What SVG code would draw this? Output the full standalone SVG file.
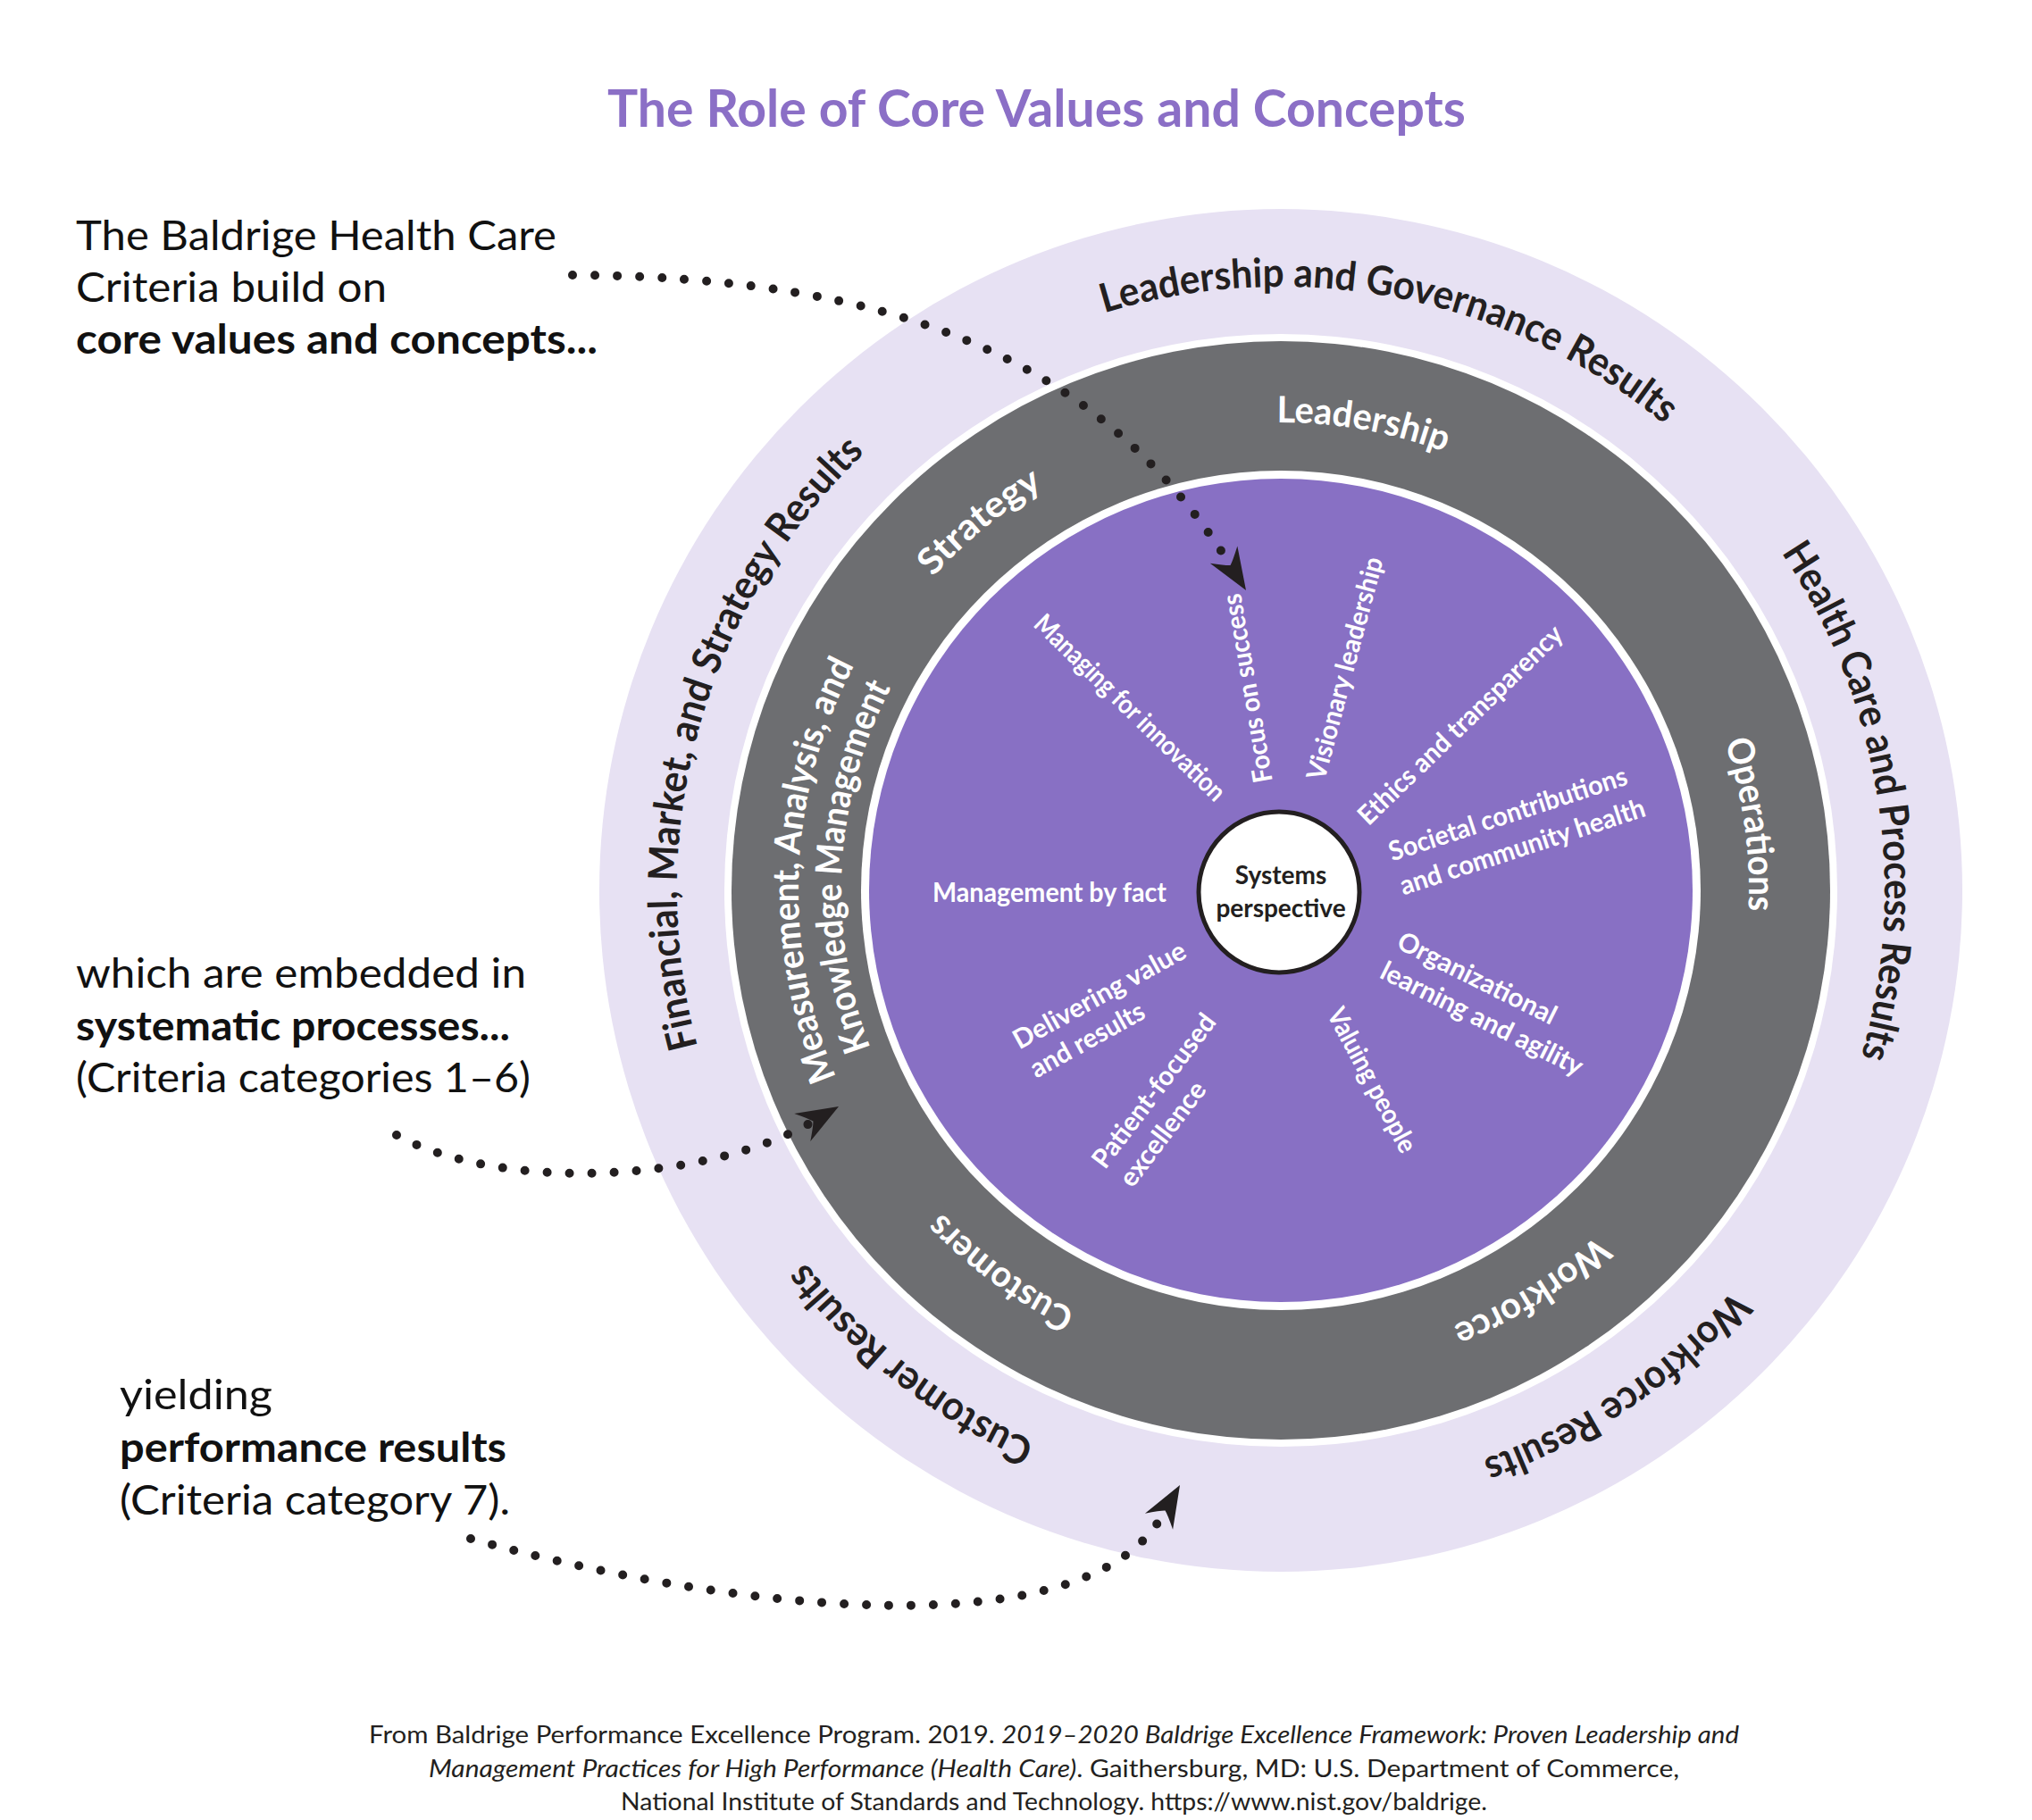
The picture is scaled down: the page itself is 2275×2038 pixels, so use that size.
<svg xmlns="http://www.w3.org/2000/svg" xmlns:xlink="http://www.w3.org/1999/xlink" width="2275" height="2038" viewBox="0 0 2275 2038">
<style>
  text{font-family:Lato,"Liberation Sans","DejaVu Sans",sans-serif}
  .title{font-weight:700;font-size:58px;fill:#8B6FC6}
  .note{font-size:46px;fill:#111111}
  .b{font-weight:700}
  .outer{font-weight:700;font-size:45px;fill:#231F20}
  .ring{font-weight:700;font-size:41px;fill:#FFFFFF}
  .val{font-weight:700;font-size:30px;fill:#FFFFFF}
  .sys{font-weight:700;font-size:28px;fill:#231F20}
  .foot{font-size:27px;fill:#231F20}
  .i{font-style:italic}
  .dots{fill:none;stroke:#231F20;stroke-width:10;stroke-linecap:round;stroke-dasharray:0 25}
  .head{fill:#231F20}
</style>
<defs>
  <path id="ah" d="M0,0 L-47,-18 Q-35,-4 -33,0 Q-35,4 -47,18 Z"/>
  <path id="pLG" d="M1236.3,350.5 A676,676 0 0 1 1864.0,475.4"/>
  <path id="pHC" d="M1994.4,619.0 A676,676 0 0 1 2083.8,1183.3"/>
  <path id="pFM" d="M781.0,1172.0 A676,676 0 0 1 968.6,506.6"/>
  <path id="pCR" d="M1159.1,1614.5 A676,676 0 0 1 901.3,1413.2"/>
  <path id="pWR" d="M1940.3,1444.9 A676,676 0 0 1 1659.6,1634.2"/>
  <path id="pL" d="M1429.4,473.0 A524,524 0 0 1 1617.5,506.2"/>
  <path id="pS" d="M1044.6,646.4 A524,524 0 0 1 1168.1,545.5"/>
  <path id="pM1" d="M936.2,1206.3 A540,540 0 0 1 956.3,745.1"/>
  <path id="pM2" d="M974.7,1173.3 A492,492 0 0 1 997.6,769.8"/>
  <path id="pO" d="M1930.9,830.7 A524,524 0 0 1 1957.5,1019.9"/>
  <path id="pC" d="M1204.3,1468.0 A524,524 0 0 1 1053.9,1357.7"/>
  <path id="pW" d="M1788.0,1383.3 A524,524 0 0 1 1626.0,1484.5"/>
</defs>

<rect width="2275" height="2038" fill="#FFFFFF"/>

<g id="title">
  <text class="title" x="680" y="142" textLength="961" lengthAdjust="spacingAndGlyphs">The Role of Core Values and Concepts</text>
</g>

<g id="rings">
  <circle cx="1434" cy="997" r="763" fill="#E7E1F3"/>
  <circle cx="1434" cy="997" r="623" fill="#FFFFFF"/>
  <circle cx="1434" cy="997" r="615" fill="#6D6E71"/>
  <circle cx="1434" cy="997" r="470" fill="#FFFFFF"/>
  <circle cx="1434" cy="997" r="461" fill="#8870C4"/>
</g>

<g id="results-ring">
  <text class="outer"><textPath href="#pLG" textLength="666" lengthAdjust="spacingAndGlyphs">Leadership and Governance Results</textPath></text>
  <text class="outer"><textPath href="#pHC" textLength="590" lengthAdjust="spacingAndGlyphs">Health Care and Process Results</textPath></text>
  <text class="outer"><textPath href="#pFM" textLength="725" lengthAdjust="spacingAndGlyphs">Financial, Market, and Strategy Results</textPath></text>
  <text class="outer"><textPath href="#pCR" textLength="330" lengthAdjust="spacingAndGlyphs">Customer Results</textPath></text>
  <text class="outer"><textPath href="#pWR" textLength="342" lengthAdjust="spacingAndGlyphs">Workforce Results</textPath></text>
</g>

<g id="process-ring">
  <text class="ring"><textPath href="#pL" textLength="192" lengthAdjust="spacingAndGlyphs">Leadership</textPath></text>
  <text class="ring"><textPath href="#pS" textLength="160" lengthAdjust="spacingAndGlyphs">Strategy</textPath></text>
  <text class="ring"><textPath href="#pM1" textLength="477" lengthAdjust="spacingAndGlyphs">Measurement, Analysis, and</textPath></text>
  <text class="ring"><textPath href="#pM2" textLength="416" lengthAdjust="spacingAndGlyphs">Knowledge Management</textPath></text>
  <text class="ring"><textPath href="#pO" textLength="192" lengthAdjust="spacingAndGlyphs">Operations</textPath></text>
  <text class="ring"><textPath href="#pC" textLength="187" lengthAdjust="spacingAndGlyphs">Customers</textPath></text>
  <text class="ring"><textPath href="#pW" textLength="192" lengthAdjust="spacingAndGlyphs">Workforce</textPath></text>
</g>

<g id="core-values">
  <text class="val" transform="translate(1162,694) rotate(44.2)" x="0" y="9" textLength="285" lengthAdjust="spacingAndGlyphs">Managing for innovation</text>
  <text class="val" transform="translate(1416,876) rotate(-99.7)" x="0" y="9" textLength="214" lengthAdjust="spacingAndGlyphs">Focus on success</text>
  <text class="val" transform="translate(1474,873) rotate(-75.1)" x="0" y="9" textLength="257" lengthAdjust="spacingAndGlyphs">Visionary leadership</text>
  <text class="val" transform="translate(1526,919) rotate(-44.1)" x="0" y="9" textLength="306" lengthAdjust="spacingAndGlyphs">Ethics and transparency</text>
  <g transform="translate(1556,956) rotate(-18.1)">
    <text class="val" x="0" y="9" textLength="279" lengthAdjust="spacingAndGlyphs">Societal contributions</text>
    <text class="val" x="0" y="49" textLength="287" lengthAdjust="spacingAndGlyphs">and community health</text>
  </g>
  <text class="val" x="1044" y="1010" textLength="262" lengthAdjust="spacingAndGlyphs">Management by fact</text>
  <g transform="translate(1566,1053) rotate(26.5)">
    <text class="val" x="0" y="9" textLength="195" lengthAdjust="spacingAndGlyphs">Organizational</text>
    <text class="val" x="-2" y="47" textLength="249" lengthAdjust="spacingAndGlyphs">learning and agility</text>
  </g>
  <text class="val" transform="translate(1493,1131) rotate(62)" x="0" y="9" textLength="179" lengthAdjust="spacingAndGlyphs">Valuing people</text>
  <g transform="translate(1137,1168) rotate(-29)">
    <text class="val" x="0" y="9" textLength="216" lengthAdjust="spacingAndGlyphs">Delivering value</text>
    <text class="val" x="1" y="46" textLength="142" lengthAdjust="spacingAndGlyphs">and results</text>
  </g>
  <g transform="translate(1230,1305) rotate(-52.8)">
    <text class="val" x="0" y="9" textLength="208" lengthAdjust="spacingAndGlyphs">Patient-focused</text>
    <text class="val" x="2" y="46" textLength="139" lengthAdjust="spacingAndGlyphs">excellence</text>
  </g>
</g>

<g id="systems-perspective">
  <circle cx="1432" cy="999" r="90" fill="#FFFFFF" stroke="#231F20" stroke-width="5"/>
  <text class="sys" x="1434" y="990" text-anchor="middle">Systems</text>
  <text class="sys" x="1434" y="1027" text-anchor="middle">perspective</text>
</g>

<g id="note-core-values">
  <text class="note" x="85" y="280" textLength="538" lengthAdjust="spacingAndGlyphs">The Baldrige Health Care</text>
  <text class="note" x="85" y="338" textLength="348" lengthAdjust="spacingAndGlyphs">Criteria build on</text>
  <text class="note b" x="85" y="396" textLength="584" lengthAdjust="spacingAndGlyphs">core values and concepts...</text>
</g>

<g id="note-processes">
  <text class="note" x="85" y="1106" textLength="504" lengthAdjust="spacingAndGlyphs">which are embedded in</text>
  <text class="note b" x="85" y="1165" textLength="486" lengthAdjust="spacingAndGlyphs">systematic processes...</text>
  <text class="note" x="85" y="1223" textLength="509" lengthAdjust="spacingAndGlyphs">(Criteria categories 1–6)</text>
</g>

<g id="note-results">
  <text class="note" x="134" y="1578" textLength="171" lengthAdjust="spacingAndGlyphs">yielding</text>
  <text class="note b" x="134" y="1637" textLength="433" lengthAdjust="spacingAndGlyphs">performance results</text>
  <text class="note" x="134" y="1696" textLength="437" lengthAdjust="spacingAndGlyphs">(Criteria category 7).</text>
</g>

<g id="connectors">
  <path class="dots" d="M641,308 C1000,310 1230,400 1377,632"/>
  <use href="#ah" class="head" transform="translate(1395,661) rotate(58)"/>
  <path class="dots" d="M444,1271 C560,1335 790,1325 910,1256"/>
  <use href="#ah" class="head" transform="translate(939,1239) rotate(-30)"/>
  <path class="dots" d="M527,1723 C800,1800 1220,1855 1304,1692"/>
  <use href="#ah" class="head" transform="translate(1321,1663) rotate(-60)"/>
</g>

<g id="footer">
  <text class="foot" x="1180" y="1952" text-anchor="middle" textLength="1534" lengthAdjust="spacingAndGlyphs">From Baldrige Performance Excellence Program. 2019. <tspan class="i">2019–2020 Baldrige Excellence Framework: Proven Leadership and</tspan></text>
  <text class="foot" x="1180" y="1990" text-anchor="middle" textLength="1400" lengthAdjust="spacingAndGlyphs"><tspan class="i">Management Practices for High Performance (Health Care)</tspan>. Gaithersburg, MD: U.S. Department of Commerce,</text>
  <text class="foot" x="1180" y="2027" text-anchor="middle" textLength="970" lengthAdjust="spacingAndGlyphs">National Institute of Standards and Technology. https://www.nist.gov/baldrige.</text>
</g>
</svg>
